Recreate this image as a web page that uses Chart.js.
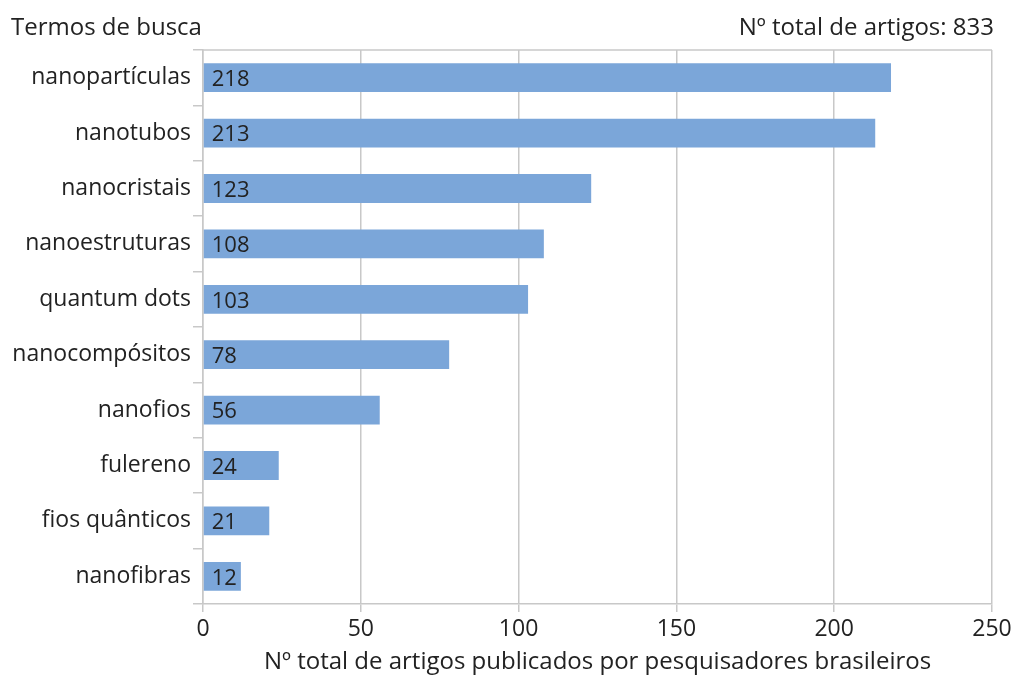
<!DOCTYPE html>
<html lang="pt">
<head>
  <meta charset="UTF-8" />
  <title>Termos de busca</title>
  <script src="https://cdn.jsdelivr.net/npm/chart.js"></script>
  <style>
    html, body { margin: 0; padding: 0; background: #fff; }
    #wrap { width: 1017px; height: 677px; position: relative; }
  </style>
</head>
<body>
  <div id="wrap"><canvas id="chart" width="1017" height="677"></canvas></div>
  <script>
    const termos = ['nanopartículas', 'nanotubos', 'nanocristais', 'nanoestruturas', 'quantum dots',
      'nanocompósitos', 'nanofios', 'fulereno', 'fios quânticos', 'nanofibras'];
    const artigos = [218, 213, 123, 108, 103, 78, 56, 24, 21, 12];
    const xTicks = [0, 50, 100, 150, 200, 250];

    const FONT = '"Open Sans", "Noto Sans", sans-serif';
    const TXT = '#222';
    const GRID = '#c8c8c8';

    // rótulos dentro das barras + títulos de cima + linha superior
    const extras = {
      id: 'extras',
      afterDatasetsDraw(chart) {
        const ctx = chart.ctx;
        const area = chart.chartArea;
        ctx.save();
        ctx.strokeStyle = GRID;
        ctx.lineWidth = 1.5;
        ctx.beginPath();
        ctx.moveTo(area.left, area.top);
        ctx.lineTo(area.right, area.top);
        ctx.stroke();

        ctx.fillStyle = TXT;
        ctx.font = '22px ' + FONT;
        ctx.textBaseline = 'middle';
        ctx.textAlign = 'left';
        chart.getDatasetMeta(0).data.forEach((bar, i) => {
          ctx.fillText(String(artigos[i]), bar.base + 8, bar.y + 2);
        });

        ctx.font = '24px ' + FONT;
        ctx.textBaseline = 'alphabetic';
        ctx.fillText('Termos de busca', 11, 35);
        ctx.textAlign = 'right';
        ctx.fillText('Nº total de artigos: 833', 994, 35);
        ctx.restore();
      }
    };

    new Chart(document.getElementById('chart'), {
      type: 'bar',
      data: {
        labels: termos,
        datasets: [{
          data: artigos,
          backgroundColor: '#7ba6d9',
          borderWidth: 0,
          categoryPercentage: 1,
          barPercentage: 0.52
        }]
      },
      options: {
        indexAxis: 'y',
        responsive: false,
        animation: false,
        devicePixelRatio: 1,
        layout: { padding: { top: 50, right: 25, left: 0, bottom: 0 } },
        plugins: { legend: { display: false }, tooltip: { enabled: false } },
        scales: {
          x: {
            min: 0,
            max: 250,
            afterBuildTicks(scale) { scale.ticks = xTicks.map(v => ({ value: v })); },
            afterFit(scale) { scale.height = 73; },
            grid: { color: GRID, lineWidth: 1.5, tickLength: 8 },
            border: { color: GRID, width: 1.5 },
            ticks: { color: TXT, font: { size: 23, family: FONT }, padding: 4 },
            title: {
              display: true,
              text: 'Nº total de artigos publicados por pesquisadores brasileiros',
              color: TXT,
              font: { size: 24, family: FONT },
              padding: { top: 0, bottom: 0 }
            }
          },
          y: {
            afterFit(scale) { scale.width = 203; },
            grid: { offset: true, drawOnChartArea: false, color: GRID, lineWidth: 1.5, tickLength: 10 },
            border: { color: GRID, width: 1.5 },
            ticks: { color: TXT, font: { size: 23, family: FONT }, padding: 2 }
          }
        }
      },
      plugins: [extras]
    });
  </script>
</body>
</html>
